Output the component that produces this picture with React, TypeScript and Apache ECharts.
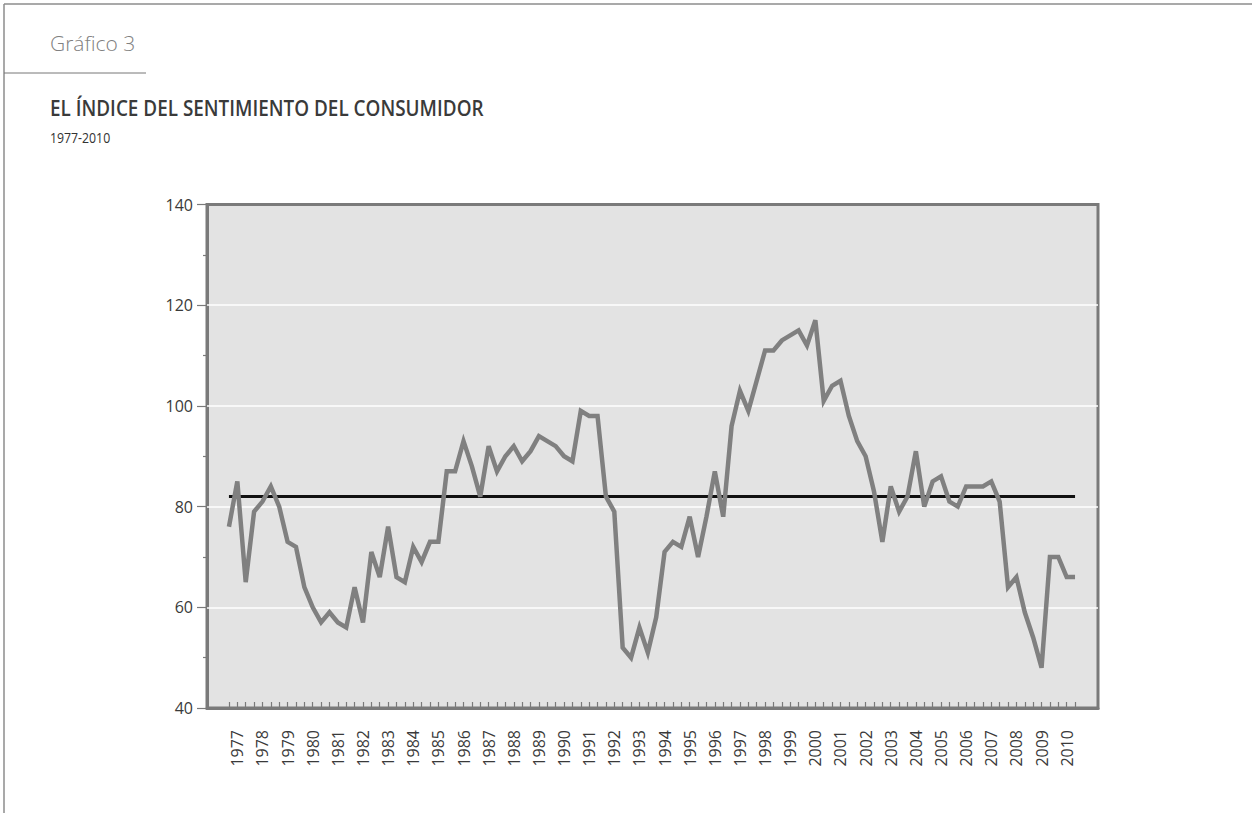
import React, { useEffect, useRef } from "react";
import * as echarts from "echarts";

const years = [
  "1977", "1978", "1979", "1980", "1981", "1982", "1983", "1984", "1985", "1986",
  "1987", "1988", "1989", "1990", "1991", "1992", "1993", "1994", "1995", "1996",
  "1997", "1998", "1999", "2000", "2001", "2002", "2003", "2004", "2005", "2006",
  "2007", "2008", "2009", "2010",
];

// three readings per year, 1977-2010
const sentiment = [
  76, 85, 65, 79, 81, 84, 80, 73, 72, 64,
  60, 57, 59, 57, 56, 64, 57, 71, 66, 76,
  66, 65, 72, 69, 73, 73, 87, 87, 93, 88,
  82, 92, 87, 90, 92, 89, 91, 94, 93, 92,
  90, 89, 99, 98, 98, 82, 79, 52, 50, 56,
  51, 58, 71, 73, 72, 78, 70, 78, 87, 78,
  96, 103, 99, 105, 111, 111, 113, 114, 115, 112,
  117, 101, 104, 105, 98, 93, 90, 83, 73, 84,
  79, 82, 91, 80, 85, 86, 81, 80, 84, 84,
  84, 85, 81, 64, 66, 59, 54, 48, 70, 70,
  66, 66,
];

const averageLevel = 82;
const gridLevels = [60, 80, 100, 120];

export default function App() {
  const ref = useRef<HTMLDivElement>(null);

  useEffect(() => {
    if (!ref.current) return;
    const chart = echarts.init(ref.current, null, { renderer: "svg" });
    const axisColor = "#7a7a7a";
    const lastIndex = sentiment.length - 1;

    chart.setOption({
      animation: false,
      backgroundColor: "#ffffff",
      grid: {
        left: 207,
        top: 204.5,
        right: 154,
        bottom: 105,
        show: true,
        backgroundColor: "#e3e3e3",
        borderColor: axisColor,
        borderWidth: 3,
      },
      xAxis: {
        type: "value",
        min: -2.62,
        max: lastIndex + 2.74,
        axisLine: { show: true, onZero: false, lineStyle: { color: axisColor, width: 3 } },
        axisTick: {
          show: true,
          inside: true,
          length: 6,
          customValues: sentiment.map((_, i) => i),
          lineStyle: { color: axisColor, width: 1.2 },
        },
        axisLabel: {
          customValues: years.map((_, k) => 3 * k + 1),
          formatter: (v: number) => years[Math.round((v - 1) / 3)] ?? "",
          rotate: 90,
          margin: 22,
          fontSize: 16,
          color: "#3a3a3a",
          fontFamily: "Open Sans",
        },
        splitLine: { show: false },
      },
      yAxis: {
        type: "value",
        min: 40,
        max: 140,
        interval: 20,
        axisLine: { show: true, onZero: false, lineStyle: { color: axisColor, width: 3 } },
        axisTick: { show: true, length: 10, lineStyle: { color: axisColor, width: 1.2 } },
        minorTick: { show: true, splitNumber: 2, length: 4, lineStyle: { color: axisColor, width: 1.2 } },
        axisLabel: { margin: 14, fontSize: 16, color: "#3a3a3a", fontFamily: "Open Sans" },
        splitLine: { show: false },
      },
      graphic: [
        { type: "line", shape: { x1: 4, y1: 4, x2: 1252, y2: 4 }, style: { stroke: "#8c8c8c", lineWidth: 1.5 } },
        { type: "line", shape: { x1: 4, y1: 4, x2: 4, y2: 813 }, style: { stroke: "#8c8c8c", lineWidth: 1.5 } },
        { type: "line", shape: { x1: 4, y1: 73, x2: 146, y2: 73 }, style: { stroke: "#777", lineWidth: 1 } },
        {
          type: "text", x: 50, y: 43,
          style: { text: "Gráfico 3", fontSize: 21, fontWeight: 300, fontFamily: "Open Sans", fill: "#808080", verticalAlign: "middle" },
        },
        {
          type: "text", x: 50, y: 108, scaleX: 0.9,
          style: { text: "EL ÍNDICE DEL SENTIMIENTO DEL CONSUMIDOR", fontSize: 21, fontWeight: 600, fontFamily: "Open Sans", fill: "#3a3a3a", verticalAlign: "middle" },
        },
        {
          type: "text", x: 50, y: 137, scaleX: 0.82,
          style: { text: "1977-2010", fontSize: 15, fontFamily: "Open Sans", fill: "#333", verticalAlign: "middle" },
        },
      ],
      series: [
        {
          name: "Promedio",
          type: "line",
          z: 2,
          symbol: "none",
          data: [[0, averageLevel], [lastIndex, averageLevel]],
          lineStyle: { color: "#111", width: 3 },
          markLine: {
            z: 1,
            silent: true,
            symbol: "none",
            label: { show: false },
            lineStyle: { color: "#ffffff", width: 1.5, type: "solid" },
            data: gridLevels.map((v) => ({ yAxis: v })),
          },
        },
        {
          name: "Índice",
          type: "line",
          z: 3,
          symbol: "none",
          data: sentiment.map((v, i) => [i, v]),
          lineStyle: { color: "#808080", width: 4.5, join: "miter" },
        },
      ],
    });
    return () => chart.dispose();
  }, []);

  return <div ref={ref} style={{ position: "fixed", left: 0, top: 0, width: 1252, height: 813 }} />;
}
